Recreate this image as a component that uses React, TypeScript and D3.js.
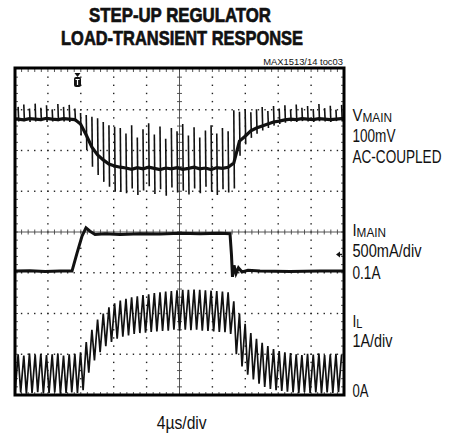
import React, { useEffect, useRef } from "react";
import * as d3 from "d3";

// 4us/div, 10 divisions across the screen
const timeDomain = [0, 40];
// switching edges counted off the ripple, one every ~0.69us
const switchPeriod = 0.69;
const peakDelay = 0.38;

// VMAIN, mV (AC-coupled), one value per switching cycle
const vmainLevel = [
  0, -2, 1, 0, -1, 2, 0, -1, 1, 0, -1,
  -12, -39, -69, -88, -100, -110, -115, -118,
  -120, -123, -119, -122, -118, -121, -124, -120, -122, -119, -123, -121, -118, -122, -120, -124, -119, -121, -118,
  -108, -54, -42, -29, -22, -17, -12, -7, -5, -2,
  0, -1, 1, 0, -1, 1, 0, -1, 0, 1,
];
const vmainSpikeTop = [
  30, 36, 26, 38, 28, 34, 24, 37, 30, 35, 26,
  15, 10, 6, 2, -7, -15, -19, -22,
  -35, -15, -45, -25, -10, -38, -18, -48, -22, -30, -12, -40, -20, -45, -28, -15, -35, -22, -30,
  22, 18, 25, 17, 24, 30, 20, 32, 26, 34,
  24, 36, 28, 32, 25, 37, 27, 33, 23, 35,
];
const vmainSpikeBottom = [
  -6, -5, -7, -6, -5, -7, -6, -5, -6, -7, -6,
  -40, -76, -117, -137, -154, -166, -178, -179,
  -182, -170, -186, -175, -165, -184, -172, -188, -168, -180, -176, -185, -170, -182, -166, -178, -186, -172, -180,
  -170, -90, -62, -46, -36, -28, -22, -16, -12, -9,
  -6, -7, -5, -6, -7, -5, -6, -7, -5, -6,
];

// IL, A: valley and peak of each ripple cycle
const ilValley = [
  0.04, 0.06, 0.03, 0.05, 0.07, 0.04, 0.05, 0.06, 0.03, 0.05, 0.06,
  0.05, 0.12, 0.55, 0.85, 1.05, 1.2, 1.3, 1.38,
  1.43, 1.46, 1.5, 1.52, 1.53, 1.55, 1.56, 1.57, 1.58, 1.6, 1.58, 1.6, 1.59, 1.6, 1.58, 1.57, 1.56, 1.55, 1.54,
  1.5, 1.0, 0.7, 0.5, 0.38, 0.28, 0.2, 0.15, 0.12, 0.1,
  0.08, 0.06, 0.05, 0.07, 0.05, 0.06, 0.04, 0.06, 0.05, 0.07,
];
const ilPeak = [
  1.0, 0.97, 1.02, 0.99, 1.01, 0.98, 1.0, 1.02, 0.97, 1.0, 1.01,
  1.05, 1.3, 1.6, 1.85, 2.0, 2.15, 2.25, 2.32,
  2.36, 2.4, 2.42, 2.45, 2.47, 2.5, 2.52, 2.54, 2.55, 2.57, 2.58, 2.58, 2.59, 2.58, 2.57, 2.56, 2.55, 2.54, 2.52,
  2.3, 2.0, 1.75, 1.52, 1.38, 1.28, 1.2, 1.13, 1.08, 1.05,
  1.03, 1.0, 0.98, 1.01, 0.99, 1.02, 0.98, 1.0, 1.01, 0.99,
];

// IMAIN, A, breakpoints of the load step
const imainTime = [
  0, 1.82, 3.65, 5.47, 6.93, 7.54, 8.15, 8.63, 9.12, 9.73, 10.94, 12.77, 15.2, 17.63, 20.06, 22.49, 24.92, 26.14,
  26.32, 26.44, 26.63, 26.87, 27.17, 27.6, 28.33, 29.79, 33.43, 37.08, 40,
];
const imainAmps = [
  0.1, 0.105, 0.095, 0.1, 0.1, 0.32, 0.53, 0.63, 0.59, 0.55, 0.56, 0.55, 0.56, 0.555, 0.565, 0.56, 0.565, 0.56,
  0.3, 0.03, 0.17, 0.07, 0.14, 0.09, 0.11, 0.1, 0.095, 0.1, 0.1,
];

// channel placement on the 8-division screen
const vmainZeroDiv = 6.77;
const vmainPerDiv = 100;
const imainRefDiv = 3.04;
const imainRef = 0.1;
const imainPerDiv = 0.5;
const ilPerDiv = 1;

const font = "'Liberation Sans Narrow', 'Arial Narrow', 'Liberation Sans', Arial, sans-serif";

export default function App() {
  const ref = useRef<SVGSVGElement>(null);

  useEffect(() => {
    document.body.style.margin = "0";
    const svg = d3.select(ref.current);
    svg.selectAll("*").remove();

    const left = 15, right = 344, top = 69, bottom = 395;
    const x = d3.scaleLinear().domain(timeDomain).range([left, right]);
    const y = d3.scaleLinear().domain([0, 8]).range([bottom, top]);
    const xDiv = d3.scaleLinear().domain([0, 10]).range([left, right]);

    const yV = (mv: number) => y(vmainZeroDiv + mv / vmainPerDiv);
    const yIm = (a: number) => y(imainRefDiv + (a - imainRef) / imainPerDiv);
    const yIl = (a: number) => y(a / ilPerDiv);

    svg
      .append("defs")
      .append("clipPath")
      .attr("id", "plot")
      .append("rect")
      .attr("x", left)
      .attr("y", top)
      .attr("width", right - left)
      .attr("height", bottom - top);

    const grid = svg.append("g").attr("fill", "#222");

    // dotted division lines
    for (let k = 1; k < 10; k++) {
      if (k === 5) continue;
      for (let m = 1; m < 40; m++) {
        grid.append("rect").attr("x", xDiv(k) - 0.7).attr("y", y(m / 5) - 0.7).attr("width", 1.4).attr("height", 1.4);
      }
    }
    for (let k = 1; k < 8; k++) {
      if (k === 4) continue;
      for (let m = 1; m < 50; m++) {
        grid.append("rect").attr("x", xDiv(m / 5) - 0.7).attr("y", y(k) - 0.7).attr("width", 1.4).attr("height", 1.4);
      }
    }

    // centre crosshair with minor ticks
    const axes = svg.append("g").attr("stroke", "#444").attr("stroke-width", 0.9);
    axes.append("line").attr("x1", xDiv(5)).attr("x2", xDiv(5)).attr("y1", top).attr("y2", bottom);
    axes.append("line").attr("x1", left).attr("x2", right).attr("y1", y(4)).attr("y2", y(4));
    for (let m = 1; m < 40; m++) {
      axes.append("line").attr("x1", xDiv(5) - 2.5).attr("x2", xDiv(5) + 2.5).attr("y1", y(m / 5)).attr("y2", y(m / 5));
      axes.append("line").attr("x1", left).attr("x2", left + 3).attr("y1", y(m / 5)).attr("y2", y(m / 5));
      axes.append("line").attr("x1", right - 3).attr("x2", right).attr("y1", y(m / 5)).attr("y2", y(m / 5));
    }
    for (let m = 1; m < 50; m++) {
      axes.append("line").attr("x1", xDiv(m / 5)).attr("x2", xDiv(m / 5)).attr("y1", y(4) - 2.5).attr("y2", y(4) + 2.5);
      axes.append("line").attr("x1", xDiv(m / 5)).attr("x2", xDiv(m / 5)).attr("y1", top).attr("y2", top + 3);
      axes.append("line").attr("x1", xDiv(m / 5)).attr("x2", xDiv(m / 5)).attr("y1", bottom - 3).attr("y2", bottom);
    }

    const traces = svg.append("g").attr("clip-path", "url(#plot)").attr("fill", "none").attr("stroke", "#111");
    const line = d3.line<[number, number]>();

    // IL triangle ripple
    const ilPts: [number, number][] = [];
    ilValley.forEach((v, i) => {
      const t = i * switchPeriod;
      ilPts.push([x(t), yIl(v)]);
      ilPts.push([x(t + peakDelay), yIl(ilPeak[i])]);
    });
    traces.append("path").attr("d", line(ilPts)).attr("stroke-width", 1.7).attr("stroke-linejoin", "miter");

    // IMAIN
    const imPts: [number, number][] = imainTime.map((t, i) => [x(t), yIm(imainAmps[i])]);
    traces.append("path").attr("d", line(imPts)).attr("stroke-width", 3);

    // VMAIN level and switching spikes
    const vPts: [number, number][] = [[x(0), yV(vmainLevel[0])]];
    vmainLevel.forEach((v, i) => vPts.push([x(i * switchPeriod + peakDelay), yV(v)]));
    vPts.push([x(40), yV(vmainLevel[vmainLevel.length - 1])]);
    traces.append("path").attr("d", line(vPts)).attr("stroke-width", 3.2);
    vmainSpikeTop.forEach((tp, i) => {
      const sx = x(i * switchPeriod + peakDelay);
      traces
        .append("path")
        .attr("d", `M${sx},${yV(tp)}L${sx + 0.6},${yV(vmainSpikeBottom[i])}`)
        .attr("stroke-width", 1.6);
    });

    // frame
    svg
      .append("rect")
      .attr("x", left)
      .attr("y", top - 1)
      .attr("width", right - left)
      .attr("height", bottom - top + 1)
      .attr("fill", "none")
      .attr("stroke", "#000")
      .attr("stroke-width", 3);

    // trigger marker
    const tx = x(7.6);
    svg.append("path").attr("d", `M${tx - 3},${top + 4}L${tx + 3},${top + 4}L${tx},${top + 8}Z`).attr("fill", "#111");
    svg.append("rect").attr("x", tx - 3.5).attr("y", top + 8).attr("width", 7).attr("height", 10).attr("rx", 2).attr("fill", "#111");
    svg
      .append("path")
      .attr("d", `M${tx - 2},${top + 10.5}H${tx + 2}M${tx},${top + 10.5}V${top + 16}`)
      .attr("stroke", "#fff")
      .attr("stroke-width", 1.2);

    // IMAIN channel marker
    const my = 254.5;
    svg.append("path").attr("d", `M${right - 8},${my}L${right - 4},${my - 3}L${right - 4},${my + 3}Z`).attr("fill", "#111");
    svg.append("line").attr("x1", right - 5).attr("x2", right - 2).attr("y1", my).attr("y2", my).attr("stroke", "#111").attr("stroke-width", 1.5);

    // squeeze a text horizontally to the width measured on the reference (condensed face)
    const fit = (t: d3.Selection<SVGTextElement, unknown, null, undefined>, tx0: number, ty: number, len: number) => {
      const w = (t.node() as SVGTextElement).getComputedTextLength() || len;
      t.attr("transform", `translate(${tx0},${ty}) scale(${len / w},1)`);
      return t;
    };

    const text = (
      s: string,
      tx0: number,
      ty: number,
      size: number,
      len: number,
      anchor = "start",
      weight = "normal",
    ) => {
      const t = svg
        .append("text")
        .attr("font-family", font)
        .attr("font-size", size)
        .attr("font-weight", weight)
        .attr("text-anchor", anchor)
        .attr("fill", "#111")
        .text(s);
      return fit(t, tx0, ty, len);
    };

    // big letter followed by a lowered, smaller subscript in one text element
    const subLabel = (main: string, sub: string, tx0: number, ty: number, len: number) => {
      const t = svg.append("text").attr("font-family", font).attr("font-size", 17).attr("fill", "#111");
      t.append("tspan").text(main);
      t.append("tspan").attr("font-size", 13.5).attr("dy", 1).text(sub);
      fit(t, tx0, ty, len);
    };

    text("STEP-UP REGULATOR", 180, 21.5, 20, 182, "middle", "bold").attr("stroke", "#111").attr("stroke-width", 0.7);
    text("LOAD-TRANSIENT RESPONSE", 182, 45, 20, 242, "middle", "bold").attr("stroke", "#111").attr("stroke-width", 0.7);
    text("MAX1513/14 toc03", 343, 65, 9, 80, "end");

    const lx = 352.5;
    subLabel("V", "MAIN", lx, 120.5, 39.5);
    text("100mV", lx, 141.7, 17.5, 43);
    text("AC-COUPLED", lx, 163.3, 17.5, 89);
    subLabel("I", "MAIN", lx, 236, 33.5);
    text("500mA/div", lx, 257.3, 17.5, 69);
    text("0.1A", lx, 279, 17.5, 28);
    subLabel("I", "L", lx, 327, 10);
    text("1A/div", lx, 346.5, 17.5, 40);
    text("0A", lx, 396.5, 17.5, 16);
    text("4\u00b5s/div", 181.7, 428.5, 17.5, 50, "middle");
  }, []);

  return <svg ref={ref} width={456} height={439} style={{ display: "block", background: "#fff" }} />;
}
